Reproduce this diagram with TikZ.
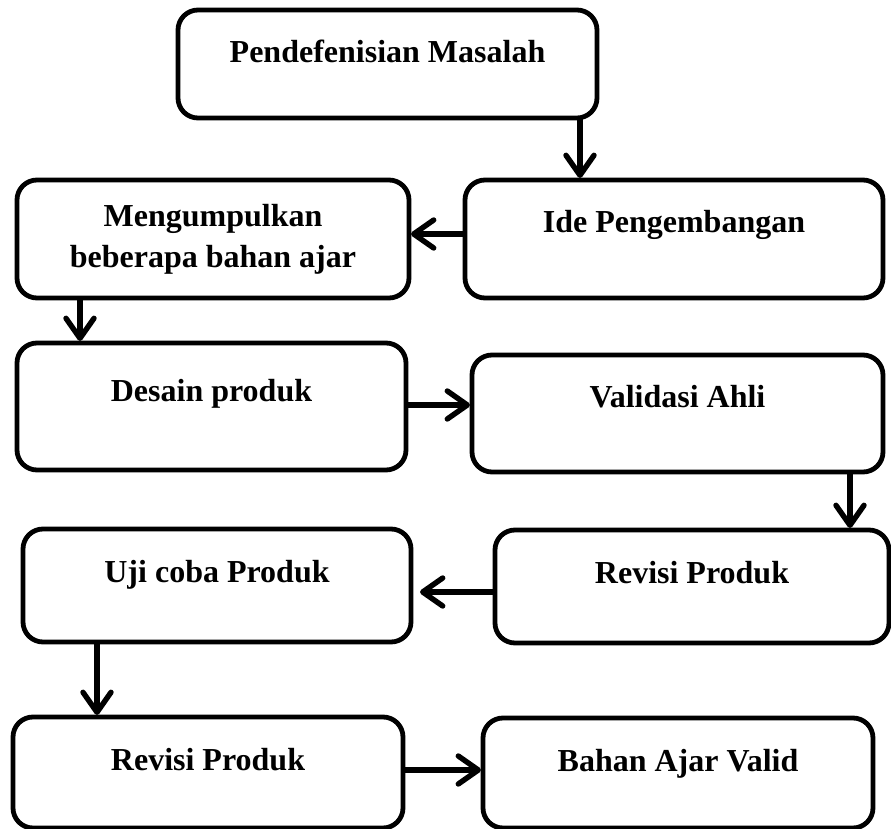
\documentclass[tikz,border=0pt]{standalone}
\usepackage{fontspec}
\setmainfont{Liberation Serif}
\usetikzlibrary{arrows.meta}

\begin{document}
\begin{tikzpicture}[x=0.5pt, y=-0.5pt,
    stage/.style={draw, line width=2.4pt, rounded corners=10pt, anchor=north west, align=center,
      inner sep=0pt, outer sep=0pt, text height=26.5pt, font=\bfseries\fontsize{16}{20.5}\selectfont},
    flow/.style={line width=2.7pt, shorten >=1pt, -{Straight Barb[length=10pt, width=14pt, round]}}]
         \useasboundingbox (0, 0) rectangle (891, 829);
         \node [stage, minimum width=209.5pt, text depth=27.5pt] (M1) at (178, 10) {Pendefenisian Masalah};
         \node [stage, minimum width=209pt, text depth=32.5pt] (R2) at (465, 180) {Ide Pengembangan};
         \node [stage, minimum width=196pt, text height=44pt, text depth=15pt] (L2) at (17, 180) {Mengumpulkan\\ beberapa bahan ajar};
         \node [stage, minimum width=194.5pt, text height=29.5pt, text depth=34pt] (L3) at (17, 343) {Desain produk};
         \node [stage, minimum width=205.5pt, text depth=32pt] (R3) at (472, 355) {Validasi Ahli};
         \node [stage, minimum width=197pt, text depth=30pt] (R4) at (495, 530) {Revisi Produk};
         \node [stage, minimum width=194pt, text depth=30pt] (L4) at (23, 529) {Uji coba Produk};
         \node [stage, minimum width=195pt, text depth=29pt] (L5) at (13, 717) {Revisi Produk};
         \node [stage, minimum width=195pt, text depth=28.5pt] (R5) at (483, 718) {Bahan Ajar Valid};
         \draw [flow] ([xshift=-8.5pt]M1.south east) -- ([xshift=-8.5pt]M1.south east |- R2.north);
         \draw [flow] ([yshift=2.5pt]R2.west) -- ([yshift=2.5pt]L2.east);
         \draw [flow] ([xshift=31.5pt]L2.south west) -- ([xshift=31.5pt]L2.south west |- L3.north);
         \draw [flow] ([yshift=0.75pt]L3.east) -- ([yshift=0.75pt]L3.east -| R3.west);
         \draw [flow] ([xshift=-16.5pt]R3.south east) -- ([xshift=-16.5pt]R3.south east |- R4.north);
         \draw [flow, shorten >=4.5pt] ([yshift=-2.75pt]R4.west) -- ([yshift=-2.75pt]R4.west -| L4.east);
         \draw [flow] ([xshift=37pt]L4.south west) -- ([xshift=37pt]L4.south west |- L5.north);
         \draw [flow] ([yshift=1.25pt]L5.east) -- ([yshift=1.25pt]L5.east -| R5.west);
\end{tikzpicture}
\end{document}
